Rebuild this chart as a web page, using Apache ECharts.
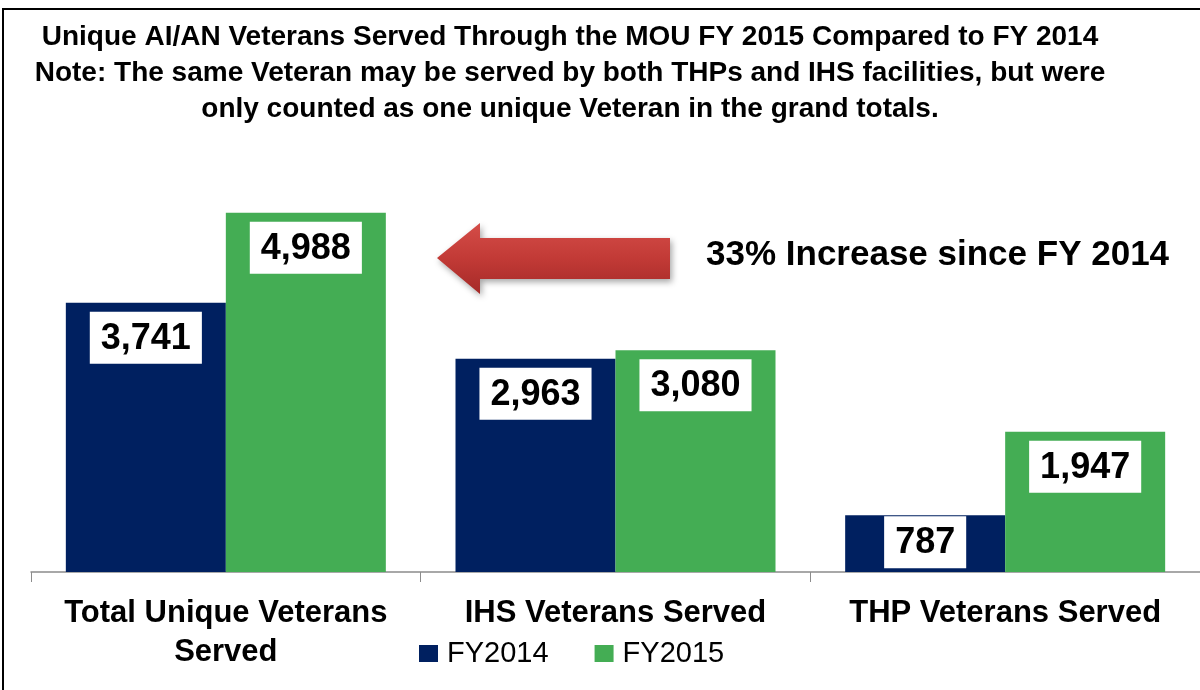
<!DOCTYPE html>
<html style="height: 100%">

<head>
    <meta charset="utf-8">
</head>

<body style="height: 100%; margin: 0; background: #fff">
    <div id="container" style="width: 1200px; height: 690px"></div>
    <script type="text/javascript" src="https://cdn.jsdelivr.net/npm/echarts@6/dist/echarts.min.js"></script>
    <script type="text/javascript">
        // chart data
        var categories = ['Total Unique Veterans\nServed', 'IHS Veterans Served', 'THP Veterans Served'];
        var fy2014 = [3741, 2963, 787];
        var fy2015 = [4988, 3080, 1947];
        var seriesNames = ['FY2014', 'FY2015'];

        var dom = document.getElementById("container");
        var myChart = echarts.init(dom);
        var font = '"Liberation Sans", Arial, sans-serif';

        // white box label inside the top of each bar
        function barData(values) {
            return values.map(function (v) {
                return {
                    value: v,
                    label: { distance: v < 1000 ? 1 : 9 }
                };
            });
        }

        var labelStyle = {
            show: true,
            position: 'insideTop',
            color: '#000',
            fontFamily: font,
            fontWeight: 'bold',
            fontSize: 36,
            lineHeight: 40,
            backgroundColor: '#fff',
            padding: [7, 11, 5, 11],
            formatter: function (p) {
                return p.value.toLocaleString('en-US');
            }
        };

        var option = {
            animation: false,
            backgroundColor: '#fff',
            title: {
                text: 'Unique AI/AN Veterans Served Through the MOU FY 2015 Compared to FY 2014\n' +
                    'Note: The same Veteran may be served by both THPs and IHS facilities, but were\n' +
                    'only counted as one unique Veteran in the grand totals.',
                left: 570,
                top: 19,
                padding: 0,
                textAlign: 'center',
                textStyle: {
                    fontFamily: font,
                    fontWeight: 'bold',
                    fontSize: 28,
                    lineHeight: 36,
                    color: '#000'
                }
            },
            legend: {
                data: seriesNames,
                left: 414,
                top: 634,
                itemWidth: 19,
                itemHeight: 17,
                itemGap: 46,
                icon: 'rect',
                textStyle: {
                    fontFamily: font,
                    fontSize: 29,
                    color: '#000',
                    padding: [0, 0, 0, 4]
                }
            },
            grid: {
                left: 31,
                top: 140,
                width: 1170,
                height: 432
            },
            xAxis: {
                type: 'category',
                data: categories,
                axisLine: { lineStyle: { color: '#8c8c8c', width: 1.5 } },
                axisTick: { show: true, length: 10, lineStyle: { color: '#8c8c8c' } },
                axisLabel: {
                    interval: 0,
                    margin: 22,
                    fontFamily: font,
                    fontWeight: 'bold',
                    fontSize: 31,
                    lineHeight: 39,
                    color: '#000'
                }
            },
            yAxis: {
                type: 'value',
                min: 0,
                max: 6000,
                show: false,
                splitLine: { show: false }
            },
            graphic: [
                {
                    type: 'rect',
                    shape: { x: 3, y: 9, width: 1250, height: 720 },
                    style: { fill: 'none', stroke: '#000', lineWidth: 2 },
                    silent: true
                },
                {
                    type: 'polygon',
                    shape: {
                        points: [[437, 258], [480, 223], [480, 238], [670, 238], [670, 279], [480, 279], [480, 294]]
                    },
                    style: {
                        fill: {
                            type: 'linear', x: 0, y: 0, x2: 0, y2: 1,
                            colorStops: [
                                { offset: 0, color: '#d44d48' },
                                { offset: 0.5, color: '#c23a36' },
                                { offset: 1, color: '#a52a28' }
                            ]
                        },
                        shadowBlur: 6,
                        shadowOffsetX: 2,
                        shadowOffsetY: 3,
                        shadowColor: 'rgba(0,0,0,0.35)'
                    }
                },
                {
                    type: 'text',
                    left: 706,
                    top: 238,
                    style: {
                        text: '33% Increase since FY 2014',
                        font: 'bold 35px ' + font,
                        fill: '#000'
                    }
                }
            ],
            series: [
                {
                    name: seriesNames[0],
                    type: 'bar',
                    data: barData(fy2014),
                    barWidth: 160,
                    barGap: '0%',
                    itemStyle: { color: '#002060' },
                    label: labelStyle
                },
                {
                    name: seriesNames[1],
                    type: 'bar',
                    data: barData(fy2015),
                    barWidth: 160,
                    barGap: '0%',
                    itemStyle: { color: '#44ad54' },
                    label: labelStyle
                }
            ]
        };

        if (option && typeof option === "object") {
            myChart.setOption(option, true);
        }
    </script>
</body>

</html>
